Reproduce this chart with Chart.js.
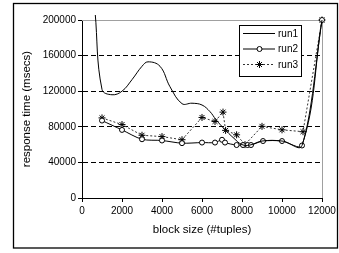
<!DOCTYPE html>
<html>
<head>
<meta charset="utf-8">
<script src="https://cdn.jsdelivr.net/npm/chart.js@4/dist/chart.umd.min.js"></script>
<style>
  body { margin: 0; background: #fff; }
  #wrap { width: 339px; height: 253px; }
</style>
</head>
<body>
<div id="wrap"><canvas id="chart" width="339" height="253"></canvas></div>
<script>
    // values (x = block size, y = response time)
    const run1Size = [650, 1000, 1500, 2000, 2500, 3000, 3300, 3900, 4400, 5000, 5500, 6000, 6400, 6700, 7100, 7600, 8000, 8400, 9000, 10000, 11000, 12000];
    const run1Time = [210000, 122000, 116000, 120000, 133000, 148000, 153000, 148000, 125000, 106000, 106500, 104500, 97000, 88000, 78000, 67000, 60000, 59500, 64000, 64000, 59000, 200000];

    const run2Size = [1000, 2000, 3000, 4000, 5000, 6000, 6650, 7000, 7150, 7730, 8050, 8280, 8450, 9050, 10000, 11000, 12000];
    const run2Time = [87000, 76500, 66000, 64600, 61600, 62300, 62300, 65400, 62300, 59500, 59500, 59500, 59500, 64000, 64000, 59000, 200000];

    const run3Size = [1000, 2000, 3000, 4000, 5000, 6000, 6650, 7050, 7180, 7730, 8150, 9000, 10000, 11050, 12000];
    const run3Time = [90000, 82500, 70500, 69000, 65500, 90500, 86000, 96500, 76000, 71000, 60000, 80500, 76600, 74500, 200000];

    const xTicks = [0, 2000, 4000, 6000, 8000, 10000, 12000];
    const yTicks = [0, 40000, 80000, 120000, 160000, 200000];

    const seriesNames = ['run1', 'run2', 'run3'];

    const font = 'Liberation Sans, Arial, sans-serif';
    const toPoints = (xs, ys) => xs.map((x, i) => ({ x: x, y: ys[i] }));

    // outer frame + grey top/right border of the plot area
    const frame = {
      id: 'frame',
      beforeDraw(chart) {
        const ctx = chart.ctx;
        ctx.save();
        ctx.fillStyle = '#fff';
        ctx.fillRect(0, 0, chart.width, chart.height);
        ctx.restore();
      },
      beforeDatasetsDraw(chart) {
        const ctx = chart.ctx;
        const a = chart.chartArea;
        ctx.save();
        ctx.strokeStyle = '#a0a0a0';
        ctx.lineWidth = 1;
        ctx.beginPath();
        ctx.moveTo(a.left, a.top + 0.5);
        ctx.lineTo(a.right + 0.5, a.top + 0.5);
        ctx.lineTo(a.right + 0.5, a.bottom);
        ctx.stroke();
        ctx.restore();
      },
      afterDraw(chart) {
        const ctx = chart.ctx;
        ctx.save();
        ctx.strokeStyle = '#000';
        ctx.lineWidth = 1.3;
        ctx.strokeRect(13.5, 3.5, 324, 244.5);
        ctx.restore();
      }
    };

    function drawMarker(ctx, style, x, y) {
      ctx.save();
      ctx.setLineDash([]);
      ctx.strokeStyle = '#000';
      ctx.lineWidth = 1;
      if (style === 'circle') {
        ctx.fillStyle = '#fff';
        ctx.beginPath();
        ctx.arc(x, y, 2.5, 0, Math.PI * 2);
        ctx.fill();
        ctx.stroke();
      } else if (style === 'star') {
        const r = 3.5;
        ctx.beginPath();
        ctx.moveTo(x - r * 0.7, y - r * 0.7); ctx.lineTo(x + r * 0.7, y + r * 0.7);
        ctx.moveTo(x + r * 0.7, y - r * 0.7); ctx.lineTo(x - r * 0.7, y + r * 0.7);
        ctx.moveTo(x, y - r); ctx.lineTo(x, y + r);
        ctx.moveTo(x - r, y); ctx.lineTo(x + r, y);
        ctx.stroke();
      }
      ctx.restore();
    }

    const legendBox = {
      id: 'legendBox',
      afterDraw(chart) {
        const ctx = chart.ctx;
        ctx.save();
        ctx.fillStyle = '#fff';
        ctx.fillRect(239.5, 25.5, 62, 51);
        ctx.strokeStyle = '#000';
        ctx.lineWidth = 1;
        ctx.strokeRect(239.5, 25.5, 62, 51);
        const rows = [33.5, 49, 64.5];
        chart.data.datasets.forEach((ds, i) => {
          const y = rows[i];
          ctx.strokeStyle = ds.borderColor;
          ctx.lineWidth = ds.borderWidth;
          ctx.setLineDash(ds.borderDash || []);
          ctx.beginPath();
          ctx.moveTo(243, y);
          ctx.lineTo(275, y);
          ctx.stroke();
          if (ds.pointRadius > 0) drawMarker(ctx, ds.pointStyle, 259.5, y);
          ctx.setLineDash([]);
          ctx.fillStyle = '#000';
          ctx.font = '10px ' + font;
          ctx.textBaseline = 'middle';
          ctx.textAlign = 'left';
          ctx.fillText(seriesNames[i], 278, y + 0.5);
        });
        ctx.restore();
      }
    };

    const ctx = document.getElementById('chart').getContext('2d');

    new Chart(ctx, {
      type: 'line',
      data: {
        datasets: [
          {
            label: seriesNames[0],
            data: toPoints(run1Size, run1Time),
            borderColor: '#000',
            borderWidth: 1,
            pointRadius: 0,
            tension: 0.4,
            fill: false,
            clip: 5
          },
          {
            label: seriesNames[1],
            data: toPoints(run2Size, run2Time),
            borderColor: '#000',
            borderWidth: 1,
            pointStyle: 'circle',
            pointRadius: 2.5,
            pointBackgroundColor: '#fff',
            pointBorderColor: '#000',
            pointBorderWidth: 1,
            tension: 0.3,
            fill: false,
            clip: 5
          },
          {
            label: seriesNames[2],
            data: toPoints(run3Size, run3Time),
            borderColor: '#333',
            borderWidth: 1,
            borderDash: [2, 2],
            pointStyle: 'star',
            pointRadius: 3.5,
            pointBorderColor: '#000',
            pointBorderWidth: 1,
            tension: 0,
            fill: false,
            clip: 5
          }
        ]
      },
      options: {
        responsive: false,
        animation: false,
        events: [],
        layout: { padding: { left: 14, top: 20, right: 17, bottom: 5 } },
        plugins: {
          legend: { display: false },
          tooltip: { enabled: false }
        },
        scales: {
          x: {
            type: 'linear',
            min: 0,
            max: 12000,
            afterFit(scale) { scale.height = 50; },
            afterBuildTicks(scale) { scale.ticks = xTicks.map(v => ({ value: v })); },
            ticks: {
              color: '#000',
              font: { family: font, size: 10 },
              padding: 3,
              maxRotation: 0,
              callback: v => String(v)
            },
            grid: {
              drawOnChartArea: false,
              drawTicks: true,
              tickLength: 4,
              tickColor: '#000'
            },
            border: { display: true, color: '#000', width: 1 },
            title: {
              display: true,
              text: 'block size (#tuples)',
              color: '#000',
              font: { family: font, size: 11.5 },
              padding: { top: 0, bottom: 11 }
            }
          },
          y: {
            type: 'linear',
            min: 0,
            max: 200000,
            afterFit(scale) { scale.width = 68; },
            afterBuildTicks(scale) { scale.ticks = yTicks.map(v => ({ value: v })); },
            ticks: {
              color: '#000',
              font: { family: font, size: 10 },
              padding: 2,
              callback: v => String(v)
            },
            grid: {
              drawOnChartArea: true,
              drawTicks: true,
              tickLength: 4,
              color: c => (c.tick && (c.tick.value === 0 || c.tick.value === 200000)) ? 'rgba(0,0,0,0)' : '#000',
              tickColor: '#000',
              tickBorderDash: [],
              lineWidth: 1
            },
            border: { display: true, color: '#000', width: 1, dash: [5, 3] },
            title: {
              display: true,
              text: 'response time (msecs)',
              color: '#000',
              font: { family: font, size: 11.5 },
              padding: { top: 6, bottom: 0 }
            }
          }
        }
      },
      plugins: [frame, legendBox]
    });
</script>
</body>
</html>
